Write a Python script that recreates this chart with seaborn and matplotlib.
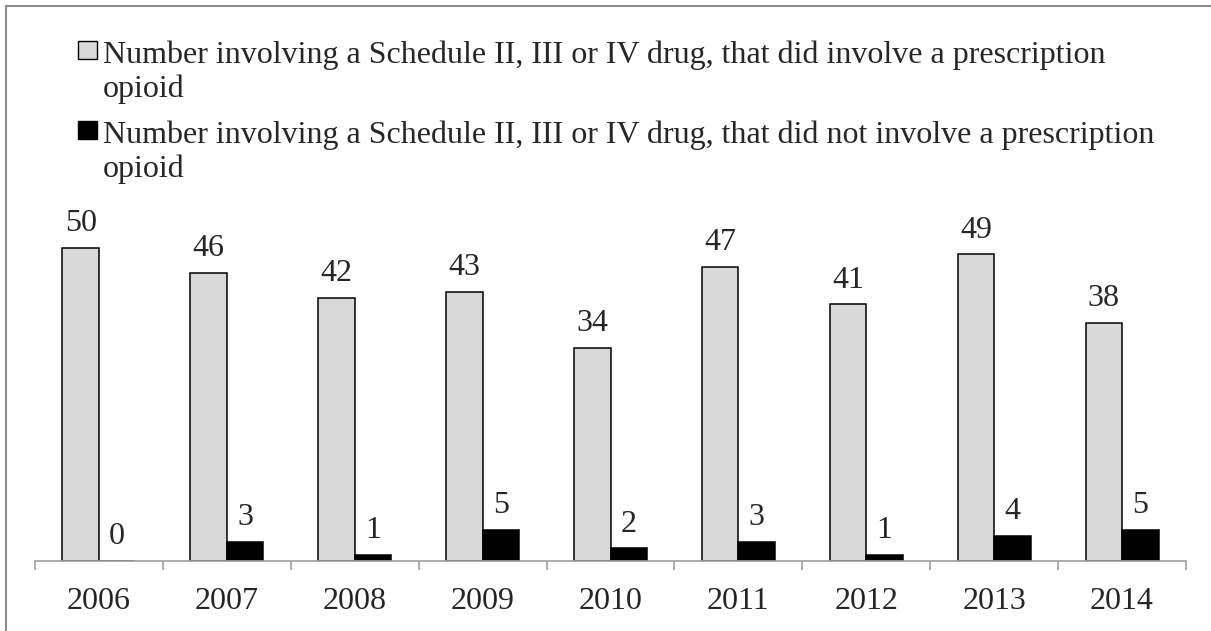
import pandas as pd
import matplotlib.pyplot as plt
import seaborn as sns
from matplotlib.lines import Line2D
from matplotlib.patches import Rectangle

# data
years = ["2006", "2007", "2008", "2009", "2010", "2011", "2012", "2013", "2014"]
with_opioid = [50, 46, 42, 43, 34, 47, 41, 49, 38]
without_opioid = [0, 3, 1, 5, 2, 3, 1, 4, 5]
series = [
    "Number involving a Schedule II, III or IV drug, that did involve a prescription\nopioid",
    "Number involving a Schedule II, III or IV drug, that did not involve a prescription\nopioid",
]
colors = ["#D9D9D9", "#000000"]

df = pd.DataFrame({
    "year": years * 2,
    "count": with_opioid + without_opioid,
    "series": [series[0]] * len(years) + [series[1]] * len(years),
})

sns.set_style("white")
plt.rcParams["font.family"] = ["Liberation Serif", "DejaVu Serif"]
FS = 23

W, H = 1211, 631
fig = plt.figure(figsize=(W / 100, H / 100), dpi=100)
ax = fig.add_axes([35 / W, 70 / H, 1151 / W, 56 * 6.26 / H])

sns.barplot(data=df, x="year", y="count", hue="series", palette=colors,
            width=0.57, edgecolor="black", linewidth=1.1, legend=False, ax=ax)

for cont in ax.containers:
    ax.bar_label(cont, fontsize=FS, padding=7)

ax.set_ylim(0, 56)
ax.set_xlim(-0.5, len(years) - 0.5)
ax.set_xlabel("")
ax.set_ylabel("")
ax.set_yticks([])
for s in ["left", "right", "top"]:
    ax.spines[s].set_visible(False)
ax.spines["bottom"].set_color("#A0A0A0")
ax.spines["bottom"].set_linewidth(1.2)
ax.spines["bottom"].set_zorder(5)

# ticks at group boundaries, labels in the middle
ax.set_xticks([i - 0.5 for i in range(len(years) + 1)])
ax.set_xticklabels([])
ax.set_xticks(range(len(years)), minor=True)
ax.set_xticklabels(years, minor=True, fontsize=FS)
ax.tick_params(axis="x", which="major", direction="out", length=6.5,
               width=1.2, color="#A0A0A0", bottom=True)
ax.tick_params(axis="x", which="minor", length=0, pad=19)

# legend at the top: square swatch next to the first line of each label
for i, (lab, col) in enumerate(zip(series, colors)):
    top = 40 + i * 80
    fig.add_artist(Rectangle((78 / W, 1 - (top + 19) / H), 19 / W, 18 / H,
                             facecolor=col, edgecolor="black", linewidth=1.0,
                             transform=fig.transFigure))
    fig.text(103 / W, 1 - top / H, lab, fontsize=FS, va="top", ha="left",
             linespacing=1.2)

# outer border (top and left)
fig.add_artist(Line2D([6 / W, 1], [1 - 6 / H, 1 - 6 / H], color="#8C8C8C", lw=1.5,
                      transform=fig.transFigure))
fig.add_artist(Line2D([6 / W, 6 / W], [0, 1 - 6 / H], color="#8C8C8C", lw=1.5,
                      transform=fig.transFigure))

fig.savefig("out.png", dpi=100)
